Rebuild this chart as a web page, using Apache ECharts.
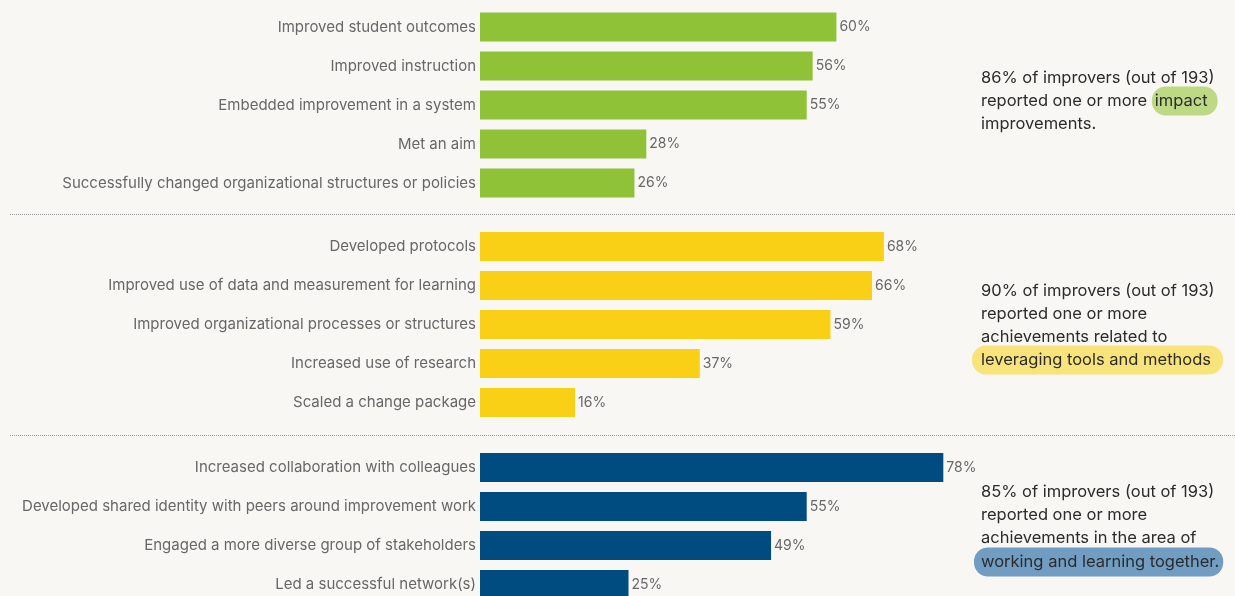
<!DOCTYPE html>
<html>
<head>
<meta charset="utf-8">
<script src="https://cdn.jsdelivr.net/npm/echarts@6/dist/echarts.min.js"></script>
<style>
html,body{margin:0;padding:0;background:#f9f7f4;overflow:hidden;}
#c{width:1235px;height:620px;}
</style>
</head>
<body>
<div id="c"></div>
<script>
const impactCats = ["Improved student outcomes","Improved instruction","Embedded improvement in a system","Met an aim","Successfully changed organizational structures or policies"];
const impactVals = [60,56,55,28,26];
const toolsCats = ["Developed protocols","Improved use of data and measurement for learning","Improved organizational processes or structures","Increased use of research","Scaled a change package"];
const toolsVals = [68,66,59,37,16];
const togetherCats = ["Increased collaboration with colleagues","Developed shared identity with peers around improvement work","Engaged a more diverse group of stakeholders","Led a successful network(s)"];
const togetherVals = [78,55,49,25];

const colors = ["#8fc236","#f9d016","#004b80"];
const FONT = "Inter";
const groups = [
  {cats: impactCats, vals: impactVals, top: 7.5, h: 195},
  {cats: toolsCats, vals: toolsVals, top: 227, h: 195},
  {cats: togetherCats, vals: togetherVals, top: 448, h: 156}
];

const chart = echarts.init(document.getElementById('c'));
const grid = [], xAxis = [], yAxis = [], series = [];
groups.forEach((g, i) => {
  grid.push({left: 480, width: 594, top: g.top, height: g.h});
  xAxis.push({type: 'value', gridIndex: i, min: 0, max: 100, show: false});
  yAxis.push({type: 'category', gridIndex: i, data: g.cats, inverse: true,
    axisLine: {show: false}, axisTick: {show: false}, splitLine: {show: false},
    axisLabel: {color: '#676767', fontFamily: FONT, fontSize: 15, margin: 4}});
  series.push({type: 'bar', xAxisIndex: i, yAxisIndex: i, data: g.vals, barWidth: 29,
    itemStyle: {color: colors[i]}, silent: true, animation: false,
    label: {show: true, position: 'right', distance: 3, formatter: '{c}%',
      color: '#676767', fontFamily: FONT, fontSize: 14}});
});

const txtColor = '#2b2b2b';
const TS = 16.5;
function line(x, y, text) {
  return {type: 'text', x: x, y: y, style: {text: text, fill: txtColor, font: TS + 'px ' + FONT, verticalAlign: 'middle'}};
}
function richLine(x, y, before, hl, bg, pad, radius) {
  return {type: 'text', x: x, y: y, style: {
    text: (before ? '{n|' + before + '}' : '') + '{h|' + hl + '}',
    verticalAlign: 'middle',
    rich: {
      n: {fill: txtColor, fontFamily: FONT, fontSize: TS},
      h: {fill: txtColor, fontFamily: FONT, fontSize: TS, backgroundColor: bg, padding: pad, borderRadius: radius}
    }
  }};
}

const graphic = [
  {type: 'line', shape: {x1: 10, y1: 214.5, x2: 1235, y2: 214.5}, style: {stroke: '#9a9a9a', lineWidth: 1, lineDash: [1, 1]}},
  {type: 'line', shape: {x1: 10, y1: 435.5, x2: 1235, y2: 435.5}, style: {stroke: '#9a9a9a', lineWidth: 1, lineDash: [1, 1]}},
  line(981, 78, '86% of improvers (out of 193)'),
  richLine(981, 101, 'reported one or more ', 'impact', 'rgba(170,207,95,0.75)', [6, 10, 6, 3], 14),
  line(981, 124, 'improvements.'),
  line(981, 291, '90% of improvers (out of 193)'),
  line(981, 314, 'reported one or more'),
  line(981, 337, 'achievements related to'),
  richLine(972, 360, '', 'leveraging tools and methods', 'rgba(248,224,100,0.85)', [6, 12, 6, 9], 14),
  line(981, 492, '85% of improvers (out of 193)'),
  line(981, 515, 'reported one or more'),
  line(981, 538, 'achievements in the area of'),
  richLine(974, 562, '', 'working and learning together.', 'rgba(96,146,187,0.9)', [6, 4, 6, 7], 14)
];

chart.setOption({
  backgroundColor: '#f9f7f4',
  animation: false,
  grid: grid, xAxis: xAxis, yAxis: yAxis, series: series,
  graphic: graphic
});
</script>
</body>
</html>
